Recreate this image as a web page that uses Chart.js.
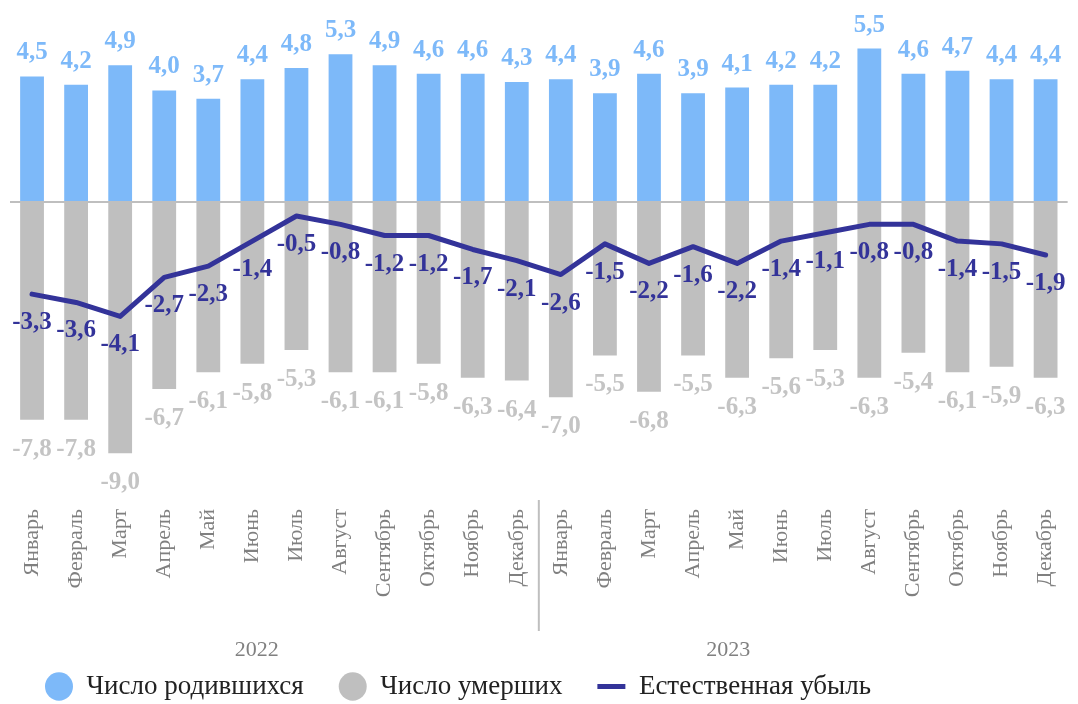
<!DOCTYPE html>
<html>
<head>
<meta charset="utf-8">
<script src="https://cdn.jsdelivr.net/npm/chart.js@4"></script>
<style>
  body { margin: 0; background: #fff; }
  #wrap { width: 1078px; height: 704px; position: relative; }
</style>
</head>
<body>
<div id="wrap"><canvas id="myChart"></canvas></div>
<script>
var months = ["Январь", "Февраль", "Март", "Апрель", "Май", "Июнь", "Июль", "Август", "Сентябрь", "Октябрь", "Ноябрь", "Декабрь",
              "Январь", "Февраль", "Март", "Апрель", "Май", "Июнь", "Июль", "Август", "Сентябрь", "Октябрь", "Ноябрь", "Декабрь"]
var years = ["2022", "2023"]

var births = [4.5, 4.2, 4.9, 4.0, 3.7, 4.4, 4.8, 5.3, 4.9, 4.6, 4.6, 4.3,
              4.4, 3.9, 4.6, 3.9, 4.1, 4.2, 4.2, 5.5, 4.6, 4.7, 4.4, 4.4]
var deaths = [-7.8, -7.8, -9.0, -6.7, -6.1, -5.8, -5.3, -6.1, -6.1, -5.8, -6.3, -6.4,
              -7.0, -5.5, -6.8, -5.5, -6.3, -5.6, -5.3, -6.3, -5.4, -6.1, -5.9, -6.3]
var decline = [-3.3, -3.6, -4.1, -2.7, -2.3, -1.4, -0.5, -0.8, -1.2, -1.2, -1.7, -2.1,
               -2.6, -1.5, -2.2, -1.6, -2.2, -1.4, -1.1, -0.8, -0.8, -1.4, -1.5, -1.9]

var serif = "'Liberation Serif', 'Times New Roman', serif"
var blue = "#7db9f9"
var grey = "#bfbfbf"
var navy = "#333399"

function fmt(v) {
	return v.toFixed(1).replace(".", ",")
}

// value labels for bars and line
var valueLabels = {
	id: "valueLabels",
	afterDatasetsDraw: function(chart) {
		var ctx = chart.ctx
		ctx.save()
		ctx.font = "bold 25px " + serif
		ctx.textAlign = "center"
		ctx.textBaseline = "alphabetic"
		chart.data.datasets.forEach(function(ds, i) {
			var meta = chart.getDatasetMeta(i)
			meta.data.forEach(function(el, j) {
				var v = ds.data[j]
				if (i == 0) {
					ctx.fillStyle = blue
					ctx.fillText(fmt(v), el.x, el.y - 17)
				} else if (i == 1) {
					ctx.fillStyle = "#c4c4c4"
					ctx.fillText(fmt(v), el.x, el.y + 36)
				} else {
					ctx.fillStyle = navy
					ctx.fillText(fmt(v), el.x, el.y + 35)
				}
			})
		})
		ctx.restore()
	}
}

// year captions and separator under the month labels
var yearAxis = {
	id: "yearAxis",
	afterDraw: function(chart) {
		var ctx = chart.ctx
		var x = chart.scales.x
		var step = x.getPixelForValue(1) - x.getPixelForValue(0)
		var sep = (x.getPixelForValue(11) + x.getPixelForValue(12)) / 2
		ctx.save()
		ctx.strokeStyle = grey
		ctx.lineWidth = 2
		ctx.beginPath()
		ctx.moveTo(sep, chart.chartArea.bottom + 5)
		ctx.lineTo(sep, 631)
		ctx.stroke()
		ctx.fillStyle = "#808080"
		ctx.font = "22px " + serif
		ctx.textAlign = "center"
		ctx.textBaseline = "middle"
		ctx.fillText(years[0], x.getPixelForValue(5) + step * 0.1, 650)
		ctx.fillText(years[1], x.getPixelForValue(16) - step * 0.2, 650)
		ctx.restore()
	}
}

var myChart = document.getElementById("myChart").getContext("2d")
var chart = new Chart(myChart, {
	type: "bar",
	data: {
		labels: months,
		datasets: [
			{
				label: "Число родившихся",
				data: births,
				backgroundColor: blue,
				barPercentage: 0.54,
				categoryPercentage: 1,
				order: 2,
				pointStyle: "circle"
			},
			{
				label: "Число умерших",
				data: deaths,
				backgroundColor: grey,
				barPercentage: 0.54,
				categoryPercentage: 1,
				order: 2,
				pointStyle: "circle"
			},
			{
				type: "line",
				label: "Естественная убыль",
				data: decline,
				borderColor: navy,
				backgroundColor: navy,
				borderWidth: 5,
				pointRadius: 0,
				pointStyle: "line",
				borderJoinStyle: "round",
				borderCapStyle: "round",
				tension: 0,
				order: 1
			}
		]
	},
	options: {
		responsive: true,
		maintainAspectRatio: false,
		animation: false,
		layout: { padding: { left: 10, right: 0, top: 0, bottom: -6 } },
		plugins: {
			tooltip: { enabled: false },
			legend: {
				position: "bottom",
				align: "start",
				labels: {
					usePointStyle: true,
					boxWidth: 28,
					boxHeight: 20,
					pointStyleWidth: 28,
					padding: 35,
					color: "#222",
					font: { family: serif, size: 27 },
					sort: function(a, b) { return a.datasetIndex - b.datasetIndex }
				}
			}
		},
		scales: {
			x: {
				stacked: true,
				grid: { display: false },
				border: { display: false },
				ticks: {
					autoSkip: false,
					minRotation: 90,
					maxRotation: 90,
					padding: 6,
					color: "#808080",
					font: { family: serif, size: 22 }
				},
				afterFit: function(s) { s.height = 143 }
			},
			y: {
				min: -10.5,
				max: 7.24,
				border: { display: false },
				grid: {
					drawTicks: false,
					lineWidth: 2,
					color: function(c) { return c.tick.value === 0 ? grey : "rgba(0,0,0,0)" }
				},
				ticks: { display: false, stepSize: 1 },
				afterFit: function(s) { s.width = 0 }
			}
		}
	},
	plugins: [valueLabels, yearAxis]
})
</script>
</body>
</html>
